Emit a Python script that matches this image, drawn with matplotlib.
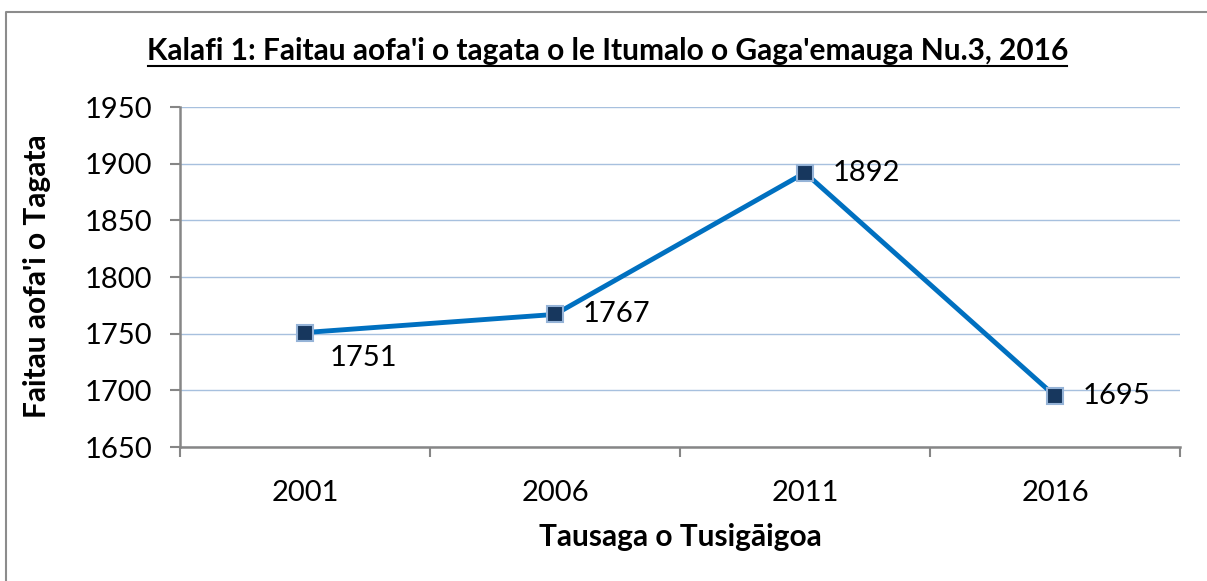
import matplotlib
matplotlib.use("Agg")
import matplotlib.pyplot as plt
from matplotlib.lines import Line2D

years = ["2001", "2006", "2011", "2016"]
population = [1751, 1767, 1892, 1695]
label_offsets = [(25, -25), (28, 0), (28, 0), (28, 0)]  # pixel offsets for data labels
yticks = [1650, 1700, 1750, 1800, 1850, 1900, 1950]
title = "Kalafi 1: Faitau aofa'i o tagata o le Itumalo o Gaga'emauga Nu.3, 2016"
xlabel = "Tausaga o Tusigāigoa"
ylabel = "Faitau aofa'i o Tagata"

plt.rcParams['font.family'] = ['Lato', 'DejaVu Sans']

W, H = 1207, 581
fig = plt.figure(figsize=(W / 100, H / 100), dpi=100)
ax = fig.add_axes([180 / W, 1 - 447 / H, 1000 / W, 340 / H])

x = list(range(len(years)))
ax.plot(x, population, color='#0070C0', lw=3.5, marker='s', markersize=11.5,
        markerfacecolor='#17375E', markeredgecolor='#95B3D7', markeredgewidth=1.5, zorder=3)

for xi, v, (dx, dy) in zip(x, population, label_offsets):
    ax.annotate(str(v), (xi, v), xytext=(dx * 0.72, dy * 0.72), textcoords='offset points',
                ha='left', va='center', fontsize=21, color='black')

ax.set_xlim(-0.5, len(years) - 0.5)
ax.set_ylim(1650, 1950)
ax.set_yticks(yticks)
ax.set_xticks(x)
ax.set_xticklabels(years)
ax.set_xticks([i - 0.5 for i in range(len(years) + 1)], minor=True)
ax.tick_params(axis='x', which='major', length=0, pad=24, labelsize=21)
ax.tick_params(axis='x', which='minor', length=7, width=1.5, color='#868686', direction='out')
ax.tick_params(axis='y', length=7, width=1.5, color='#868686', direction='out', pad=13, labelsize=21)
ax.grid(axis='y', color='#A7C0DE', lw=1)
ax.set_axisbelow(True)
for s in ['top', 'right']:
    ax.spines[s].set_visible(False)
for s in ['left', 'bottom']:
    ax.spines[s].set_color('#868686')
    ax.spines[s].set_linewidth(1.8)

fig.text(608 / W, 1 - 51 / H, title, ha='center', va='center', fontsize=21.5,
         fontweight='bold')
# underline
fig.add_artist(Line2D([148 / W, 1067 / W], [1 - 66 / H, 1 - 66 / H], color='black', lw=1.5,
                      transform=fig.transFigure))
fig.text(680 / W, 1 - 537 / H, xlabel, ha='center', va='center', fontsize=21.5, fontweight='bold')
fig.text(37 / W, 1 - 276 / H, ylabel, ha='center', va='center', fontsize=21.5, fontweight='bold',
         rotation=90)

# chart border (left and top visible)
fig.add_artist(Line2D([5.5 / W, 5.5 / W, 1.0], [0.0, 1 - 11.5 / H, 1 - 11.5 / H], color='#8C8C8C',
                      lw=1.5, transform=fig.transFigure))

fig.savefig("out.png", dpi=100)
